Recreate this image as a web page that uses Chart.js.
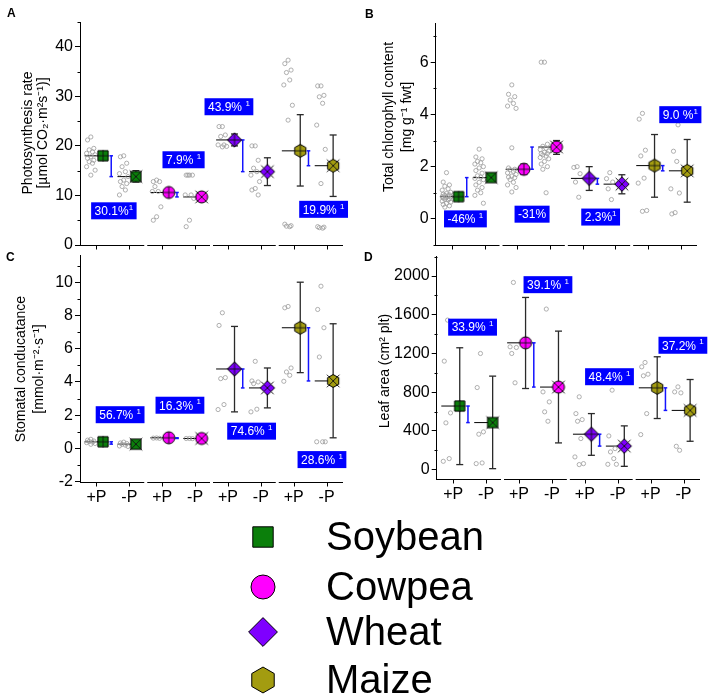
<!DOCTYPE html>
<html>
<head>
<meta charset="utf-8">
<title>P supply effects on four crops</title>
<script src="https://cdn.jsdelivr.net/npm/chart.js@4.4.1/dist/chart.umd.min.js"></script>
<style>
  body { margin: 0; background: #fff; font-family: "Liberation Sans", Arial, sans-serif; }
  #page { position: relative; width: 708px; height: 697px; overflow: hidden; }
  canvas.panel { position: absolute; }
  .letter { position: absolute; font-weight: bold; font-size: 12px; color: #000; }
  .legend-text { position: absolute; left: 326px; font-size: 40px; line-height: 40px; color: #000; }
  .legend-mark { position: absolute; }
</style>
</head>
<body>
<div id="page">
  <canvas id="chartA" class="panel" width="354" height="258" style="left:0;top:0"></canvas>
  <canvas id="chartB" class="panel" width="354" height="258" style="left:354px;top:0"></canvas>
  <canvas id="chartC" class="panel" width="354" height="276" style="left:0;top:244px"></canvas>
  <canvas id="chartD" class="panel" width="354" height="276" style="left:354px;top:244px"></canvas>
  <div class="letter" style="left:7px;top:6px">A</div>
  <div class="letter" style="left:365px;top:7px">B</div>
  <div class="letter" style="left:6px;top:250px">C</div>
  <div class="letter" style="left:364px;top:250px">D</div>
  <div id="legend"></div>
</div>
<script>
const FONT = '"Liberation Sans", Arial, sans-serif';

const categories = ["+P", "-P", "+P", "-P", "+P", "-P", "+P", "-P"];
const species = ["Soybean", "Cowpea", "Wheat", "Maize"];
const speciesColors = ["#0b7f0b", "#ff00ff", "#7f00ff", "#a39c10"];

// A - photosynthesis rate
const photoRaw = [
	[21.8, 21.2, 19.5, 19.2, 18.8, 18.5, 18.2, 17.8, 17.5, 17.1, 16.8, 16.5, 15.8, 15.1, 14.1],
	[18.0, 17.8, 16.5, 15.8, 14.8, 14.4, 13.8, 13.1, 12.8, 12.4, 11.8, 11.1, 10.1],
	[13.1, 12.8, 12.8, 11.8, 10.8, 10.8, 7.7, 5.7, 5.0],
	[14.1, 14.1, 14.1, 14.1, 10.1, 10.1, 9.4, 5.0, 3.7],
	[23.9, 23.9, 22.2, 21.9, 20.2, 20.2, 19.9, 19.8],
	[20.0, 20.0, 17.1, 15.5, 14.8, 14.1, 12.8, 11.4, 11.1, 10.1],
	[37.3, 36.6, 35.3, 34.8, 33.3, 32.3, 28.2, 25.2, 4.2, 3.9, 3.8, 3.7],
	[32.1, 32.1, 30.2, 29.9, 28.6, 24.2, 19.3, 12.4, 3.7, 3.6, 3.5, 3.4],
];
const photoMean = [18.0, 13.8, 10.6, 9.7, 21.2, 14.8, 19.0, 16.0];
const photoLow = [17.2, 12.7, 10.1, 9.2, 20.0, 12.0, 11.9, 9.8];
const photoHigh = [18.7, 15.0, 11.1, 10.3, 22.4, 17.6, 26.3, 22.2];
const photoTags = ["30.1%", "7.9% ", "43.9% ", "19.9% "];
const photoSups = ["1", "1", "1", "1"];
const photoTicks = [0, 10, 20, 30, 40];

// B - total chlorophyll
const chlRaw = [
	[1.77, 1.41, 1.3, 1.25, 1.15, 1.1, 1.02, 0.97, 0.95, 0.92, 0.9, 0.88, 0.85, 0.85, 0.82, 0.8, 0.77, 0.75, 0.72, 0.68, 0.64, 0.6, 0.55, 0.5, 0.45],
	[2.67, 2.37, 2.3, 2.2, 2.15, 2.1, 2.0, 1.95, 1.85, 1.75, 1.65, 1.6, 1.55, 1.5, 1.4, 1.3, 1.2, 1.1, 1.0, 0.9, 0.6],
	[5.13, 4.77, 4.68, 4.55, 4.42, 4.32, 4.23, 2.72, 1.95, 1.9, 1.88, 1.82, 1.76, 1.7, 1.64, 1.6, 1.58, 1.5, 1.4, 1.3, 1.2, 1.03],
	[6.0, 6.0, 2.86, 2.78, 2.7, 2.65, 2.6, 2.55, 2.5, 2.5, 2.45, 2.4, 2.35, 2.3, 2.2, 2.1, 2.0, 1.9, 1.0],
	[2.0, 1.97, 1.73, 1.41, 0.83],
	[1.77, 1.54, 1.41, 1.15, 0.74],
	[4.04, 3.82, 2.63, 2.41, 1.56, 1.37, 0.32, 0.29],
	[4.17, 3.82, 3.6, 2.59, 2.2, 1.15, 0.99, 0.24, 0.19],
];
const chlMean = [0.85, 1.58, 1.9, 2.75, 1.55, 1.33, 2.04, 1.84];
const chlLow = [0.78, 1.45, 1.7, 2.47, 1.09, 0.96, 0.83, 0.64];
const chlHigh = [0.92, 1.72, 2.1, 3.0, 2.0, 1.69, 3.23, 3.04];
const chlTags = ["-46% ", "-31%", "2.3%", "9.0 %"];
const chlSups = ["1", "", "1", "1"];
const chlTicks = [0, 2, 4, 6];

// C - stomatal conductance
const condRaw = [
	[0.55, 0.5, 0.45, 0.42, 0.38, 0.35, 0.3, 0.25],
	[0.38, 0.33, 0.3, 0.25, 0.2, 0.15, 0.12],
	[0.63, 0.62, 0.61],
	[0.6, 0.6, 0.59],
	[8.16, 7.4, 4.26, 4.2, 2.64, 2.34],
	[5.24, 4.06, 4.0, 3.9, 2.36, 2.2],
	[8.54, 8.46, 4.84, 4.6, 4.4, 4.04],
	[9.76, 8.36, 7.26, 5.5, 0.4, 0.4, 0.4],
];
const condMean = [0.4, 0.26, 0.64, 0.6, 4.78, 3.64, 7.26, 4.06];
const condLow = [0.3, 0.18, 0.58, 0.52, 2.2, 2.44, 4.56, 0.64];
const condHigh = [0.5, 0.34, 0.72, 0.66, 7.34, 4.84, 10.0, 7.5];
const condTags = ["56.7% ", "16.3% ", "74.6% ", "28.6% "];
const condSups = ["1", "1", "1", "1"];
const condTicks = [-2, 0, 2, 4, 6, 8, 10];

// D - leaf area
const leafRaw = [
	[1545, 1121, 586, 483, 114, 86],
	[1200, 848, 390, 366, 69, 62],
	[1934, 1269, 1262, 1200, 897],
	[1659, 803, 700, 597, 500],
	[752, 579, 517, 500, 321, 131, 62, 52],
	[821, 348, 217, 183, 114, 55, 55],
	[1107, 1062, 986, 969, 579, 362],
	[855, 803, 793, 241, 200],
];
const leafMean = [657, 486, 1310, 853, 366, 243, 845, 612];
const leafLow = [52, 10, 838, 276, 148, 34, 528, 293];
const leafHigh = [1259, 966, 1779, 1431, 579, 452, 1166, 931];
const leafTags = ["33.9% ", "39.1% ", "48.4% ", "37.2% "];
const leafSups = ["1", "1", "1", "1"];
const leafTicks = [0, 400, 800, 1200, 1600, 2000];

// layout of each panel (pixels) and where the percentage tags sit (x in category units, y in data units)
const panels = [
	{
		id: "chartA", raw: photoRaw, mean: photoMean, low: photoLow, high: photoHigh,
		tags: photoTags, sups: photoSups, ticks: photoTicks, min: 0, max: 45, minor: 5,
		showCats: false, yWidth: 80, xHeight: 13, top: 22, right: 11,
		title: ["Photosynthesis rate", "[µmol CO₂·m²s⁻¹)]"], titleX: [28, 43], titleY: 133,
		tagAt: [[0.53, 6.9], [2.65, 17.2], [4.03, 27.9], [6.91, 7.2]],
	},
	{
		id: "chartB", raw: chlRaw, mean: chlMean, low: chlLow, high: chlHigh,
		tags: chlTags, sups: chlSups, ticks: chlTicks, min: -1, max: 7.5, minor: 1,
		showCats: false, yWidth: 81.7, xHeight: 13, top: 23, right: 11,
		title: ["Total chlorophyll content", "[mg g⁻¹ fwt]"], titleX: [35, 53], titleY: 117,
		tagAt: [[0.41, 0.0], [2.45, 0.18], [4.55, 0.07], [6.99, 3.99]],
	},
	{
		id: "chartC", raw: condRaw, mean: condMean, low: condLow, high: condHigh,
		tags: condTags, sups: condSups, ticks: condTicks, min: -2, max: 11.6, minor: 1,
		showCats: true, yWidth: 80, xHeight: 38.3, top: 11, right: 11,
		title: ["Stomatal conducatance", "[mmol·m⁻²·s⁻¹]"], titleX: [21, 39], titleY: 125,
		tagAt: [[0.72, 2.03], [2.54, 2.6], [4.72, 1.04], [6.86, -0.67]],
	},
	{
		id: "chartD", raw: leafRaw, mean: leafMean, low: leafLow, high: leafHigh,
		tags: leafTags, sups: leafSups, ticks: leafTicks, min: -100, max: 2200, minor: 200,
		showCats: true, yWidth: 82.7, xHeight: 40.7, top: 12.7, right: 5.7,
		title: ["Leaf area (cm² plt)"], titleX: [31], titleY: 127,
		tagAt: [[0.59, 1472], [2.88, 1911], [4.75, 960], [6.98, 1285]],
	},
];

const markOffset = 0.2;
const bracketOffset = 0.45;
const jitter = [-0.17, -0.27, -0.08, -0.22, -0.12, -0.3, -0.04];

function drawShape(g, s, r) {
	g.beginPath();
	if (s === 0) {
		const h = r * 0.85;
		g.rect(-h, -h, 2 * h, 2 * h);
	} else if (s === 1) {
		g.arc(0, 0, r, 0, Math.PI * 2);
	} else if (s === 2) {
		const h = r * 1.2;
		g.moveTo(0, -h); g.lineTo(h, 0); g.lineTo(0, h); g.lineTo(-h, 0); g.closePath();
	} else {
		const h = r * 1.08;
		for (let k = 0; k < 6; k++) {
			const a = -Math.PI / 2 + k * Math.PI / 3;
			if (k === 0) g.moveTo(h * Math.cos(a), h * Math.sin(a));
			else g.lineTo(h * Math.cos(a), h * Math.sin(a));
		}
		g.closePath();
	}
}

function markerCanvas(s, mode, r) {
	const size = Math.ceil(r * 3);
	const c = document.createElement("canvas");
	c.width = size;
	c.height = size;
	const g = c.getContext("2d");
	g.translate(size / 2, size / 2);
	drawShape(g, s, r);
	g.fillStyle = speciesColors[s];
	g.fill();
	g.lineWidth = 1;
	g.strokeStyle = "#000";
	g.stroke();
	g.strokeStyle = "#111";
	g.lineWidth = 0.9;
	g.beginPath();
	if (mode === "+") {
		g.moveTo(-r, 0); g.lineTo(r, 0);
		g.moveTo(0, -r); g.lineTo(0, r);
	} else if (mode === "x") {
		const e = r * 1.05;
		g.moveTo(-e, -e); g.lineTo(e, e);
		g.moveTo(e, -e); g.lineTo(-e, e);
	}
	g.stroke();
	return c;
}

function rawPoints(raw) {
	const pts = [];
	raw.forEach((vals, i) => {
		vals.forEach((v, j) => pts.push({ x: i + jitter[j % jitter.length], y: v }));
	});
	return pts;
}

function line(ctx, x1, y1, x2, y2) {
	ctx.beginPath();
	ctx.moveTo(x1, y1);
	ctx.lineTo(x2, y2);
	ctx.stroke();
}

function decor(p) {
	return {
		id: "decor",
		beforeDatasetsDraw(chart) {
			const ctx = chart.ctx;
			const xs = chart.scales.x;
			const ys = chart.scales.y;
			ctx.save();
			p.mean.forEach((m, i) => {
				const xm = xs.getPixelForValue(i + markOffset);
				const y = ys.getPixelForValue(m);
				ctx.strokeStyle = "#000";
				ctx.lineWidth = 1;
				line(ctx, xs.getPixelForValue(i - 0.36), y, xm, y);
				const yl = ys.getPixelForValue(p.low[i]);
				const yh = ys.getPixelForValue(p.high[i]);
				ctx.strokeStyle = "#2a2a2a";
				ctx.lineWidth = 1.3;
				line(ctx, xm, yl, xm, yh);
				line(ctx, xm - 3.5, yl, xm + 3.5, yl);
				line(ctx, xm - 3.5, yh, xm + 3.5, yh);
			});
			for (let s = 0; s < 4; s++) {
				const xb = xs.getPixelForValue(2 * s + bracketOffset);
				const y1 = ys.getPixelForValue(p.mean[2 * s]);
				const y2 = ys.getPixelForValue(p.mean[2 * s + 1]);
				ctx.strokeStyle = "#1414ff";
				ctx.lineWidth = 1.5;
				line(ctx, xb, y1, xb, y2);
				line(ctx, xb - 1.8, y1, xb + 1.8, y1);
				line(ctx, xb - 1.8, y2, xb + 1.8, y2);
			}
			ctx.restore();
		},
		afterDraw(chart) {
			const ctx = chart.ctx;
			const xs = chart.scales.x;
			const ys = chart.scales.y;
			const area = chart.chartArea;
			ctx.save();
			// broken x axis with one segment per species
			ctx.strokeStyle = "#000";
			ctx.lineWidth = 1;
			const yb = Math.round(area.bottom) + 0.5;
			for (let s = 0; s < 4; s++) {
				const a = xs.getPixelForValue(2 * s - 0.5) + (s > 0 ? 1.5 : 0);
				const b = xs.getPixelForValue(2 * s + 1.5) - (s < 3 ? 1.5 : 0);
				line(ctx, a, yb, b, yb);
			}
			categories.forEach((c, i) => {
				const x = Math.round(xs.getPixelForValue(i)) + 0.5;
				line(ctx, x, yb, x, yb + 4);
			});
			// minor y ticks
			const xl = Math.round(area.left) + 0.5;
			for (let v = Math.ceil(p.min / p.minor) * p.minor; v <= p.max + 1e-9; v += p.minor) {
				if (p.ticks.some((t) => Math.abs(t - v) < 1e-9)) continue;
				const y = Math.round(ys.getPixelForValue(v)) + 0.5;
				line(ctx, xl - 3, y, xl, y);
			}
			// percentage tags
			p.tags.forEach((t, k) => {
				const cx = xs.getPixelForValue(p.tagAt[k][0]);
				const cy = ys.getPixelForValue(p.tagAt[k][1]);
				ctx.font = "12px " + FONT;
				const w1 = ctx.measureText(t).width;
				ctx.font = "8px " + FONT;
				const w2 = p.sups[k] ? ctx.measureText(p.sups[k]).width : 0;
				const w = w1 + w2 + 7;
				const h = 17;
				ctx.fillStyle = "#0000ff";
				ctx.fillRect(cx - w / 2, cy - h / 2, w, h);
				ctx.fillStyle = "#fff";
				ctx.textBaseline = "middle";
				ctx.textAlign = "left";
				ctx.font = "12px " + FONT;
				ctx.fillText(t, cx - w / 2 + 3.5, cy + 1);
				if (p.sups[k]) {
					ctx.font = "8px " + FONT;
					ctx.fillText(p.sups[k], cx - w / 2 + 3.5 + w1, cy - 3);
				}
			});
			// y axis title
			ctx.fillStyle = "#000";
			ctx.font = "14px " + FONT;
			ctx.textAlign = "center";
			ctx.textBaseline = "middle";
			p.title.forEach((txt, k) => {
				ctx.save();
				ctx.translate(p.titleX[k], p.titleY);
				ctx.rotate(-Math.PI / 2);
				ctx.fillText(txt, 0, 0);
				ctx.restore();
			});
			ctx.restore();
		},
	};
}

function makeChart(p) {
	const means = p.mean.map((m, i) => ({ x: i + markOffset, y: m }));
	const styles = p.mean.map((m, i) => markerCanvas(Math.floor(i / 2), i % 2 === 0 ? "+" : "x", 6));
	return new Chart(document.getElementById(p.id), {
		type: "scatter",
		data: {
			datasets: [
				{
					data: rawPoints(p.raw),
					pointStyle: "circle",
					pointRadius: 2.1,
					borderColor: "#9c9c9c",
					borderWidth: 0.8,
					backgroundColor: "rgba(255,255,255,0)",
					order: 2,
				},
				{
					data: means,
					pointStyle: styles,
					pointRadius: 7,
					order: 1,
				},
			],
		},
		options: {
			responsive: false,
			animation: false,
			events: [],
			devicePixelRatio: 1,
			layout: { padding: { top: p.top, right: p.right, left: 0, bottom: 0 } },
			plugins: { legend: { display: false }, tooltip: { enabled: false } },
			scales: {
				x: {
					type: "linear",
					min: -0.5,
					max: 7.5,
					afterBuildTicks: (s) => { s.ticks = categories.map((c, i) => ({ value: i })); },
					afterFit: (s) => { s.height = p.xHeight; },
					ticks: {
						display: p.showCats,
						callback: (v) => categories[v],
						font: { size: 16, family: FONT },
						color: "#000",
						padding: 6,
						maxRotation: 0,
						autoSkip: false,
					},
					grid: { display: false, drawTicks: false },
					border: { display: false },
				},
				y: {
					type: "linear",
					min: p.min,
					max: p.max,
					afterBuildTicks: (s) => { s.ticks = p.ticks.map((v) => ({ value: v })); },
					afterFit: (s) => { s.width = p.yWidth; },
					ticks: {
						callback: (v) => String(v),
						font: { size: 16, family: FONT },
						color: "#000",
						padding: 2,
					},
					grid: { drawOnChartArea: false, tickLength: 5, color: "#000", lineWidth: 1 },
					border: { color: "#000", width: 1 },
				},
			},
		},
		plugins: [decor(p)],
	});
}

panels.forEach(makeChart);

// legend
const legendRows = [537, 587, 632, 680];
const legend = document.getElementById("legend");
species.forEach((name, s) => {
	const mk = markerCanvas(s, "", 12);
	mk.className = "legend-mark";
	mk.style.left = 263 - mk.width / 2 + "px";
	mk.style.top = legendRows[s] - mk.height / 2 + "px";
	legend.appendChild(mk);
	const txt = document.createElement("div");
	txt.className = "legend-text";
	txt.style.top = legendRows[s] - 21 + "px";
	txt.textContent = name;
	legend.appendChild(txt);
});
</script>
</body>
</html>
